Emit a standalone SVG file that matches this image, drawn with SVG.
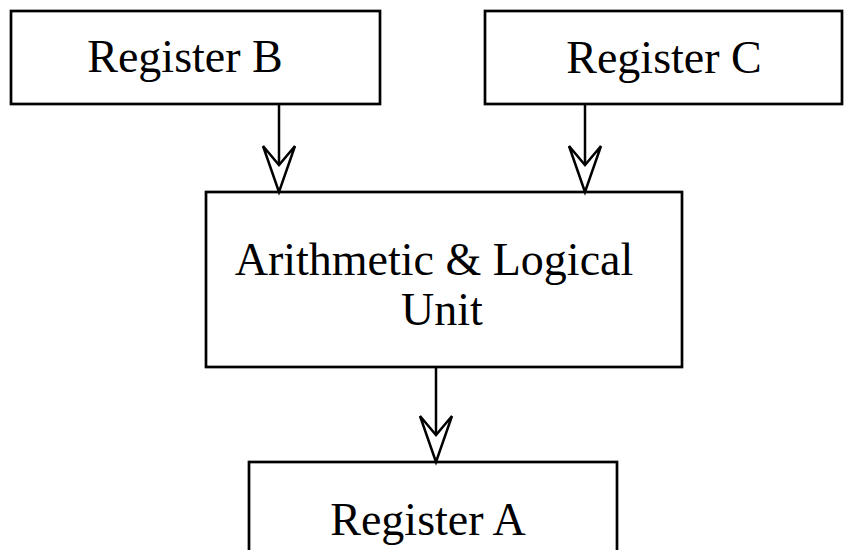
<svg xmlns="http://www.w3.org/2000/svg" width="844" height="550" viewBox="0 0 844 550">
<style>
.box{fill:#fff;stroke:#000;stroke-width:2.7}
.lbl{font-family:"Liberation Serif","Times New Roman",serif;font-size:46px;fill:#000;text-anchor:middle}
.ln{stroke:#000;stroke-width:2.5;fill:none}
.hd{fill:#fff;stroke:#000;stroke-width:2.5;stroke-linejoin:miter}
</style>
<rect width="844" height="550" fill="#fff"/>
<g id="regB"><rect class="box" x="11" y="11" width="369" height="93"/><text class="lbl" x="185" y="72">Register B</text></g>
<g id="regC"><rect class="box" x="485" y="11" width="357" height="93"/><text class="lbl" x="664" y="73">Register C</text></g>
<g id="alu"><rect class="box" x="206" y="192" width="476" height="175"/><text class="lbl" x="434" y="275">Arithmetic &amp; Logical</text><text class="lbl" x="442" y="325">Unit</text></g>
<g id="regA"><rect class="box" x="249" y="462" width="368" height="100"/><text class="lbl" x="428" y="535">Register A</text></g>
<g id="connectors">
<line class="ln" x1="279" y1="104" x2="279" y2="165"/>
<path class="hd" d="M279,192 L263,146 L279,165 L295,146 Z"/>
<line class="ln" x1="585" y1="104" x2="585" y2="165"/>
<path class="hd" d="M585,192 L569,146 L585,165 L601,146 Z"/>
<line class="ln" x1="436" y1="367" x2="436" y2="435"/>
<path class="hd" d="M436,462 L420,416 L436,435 L452,416 Z"/>
</g>
</svg>
